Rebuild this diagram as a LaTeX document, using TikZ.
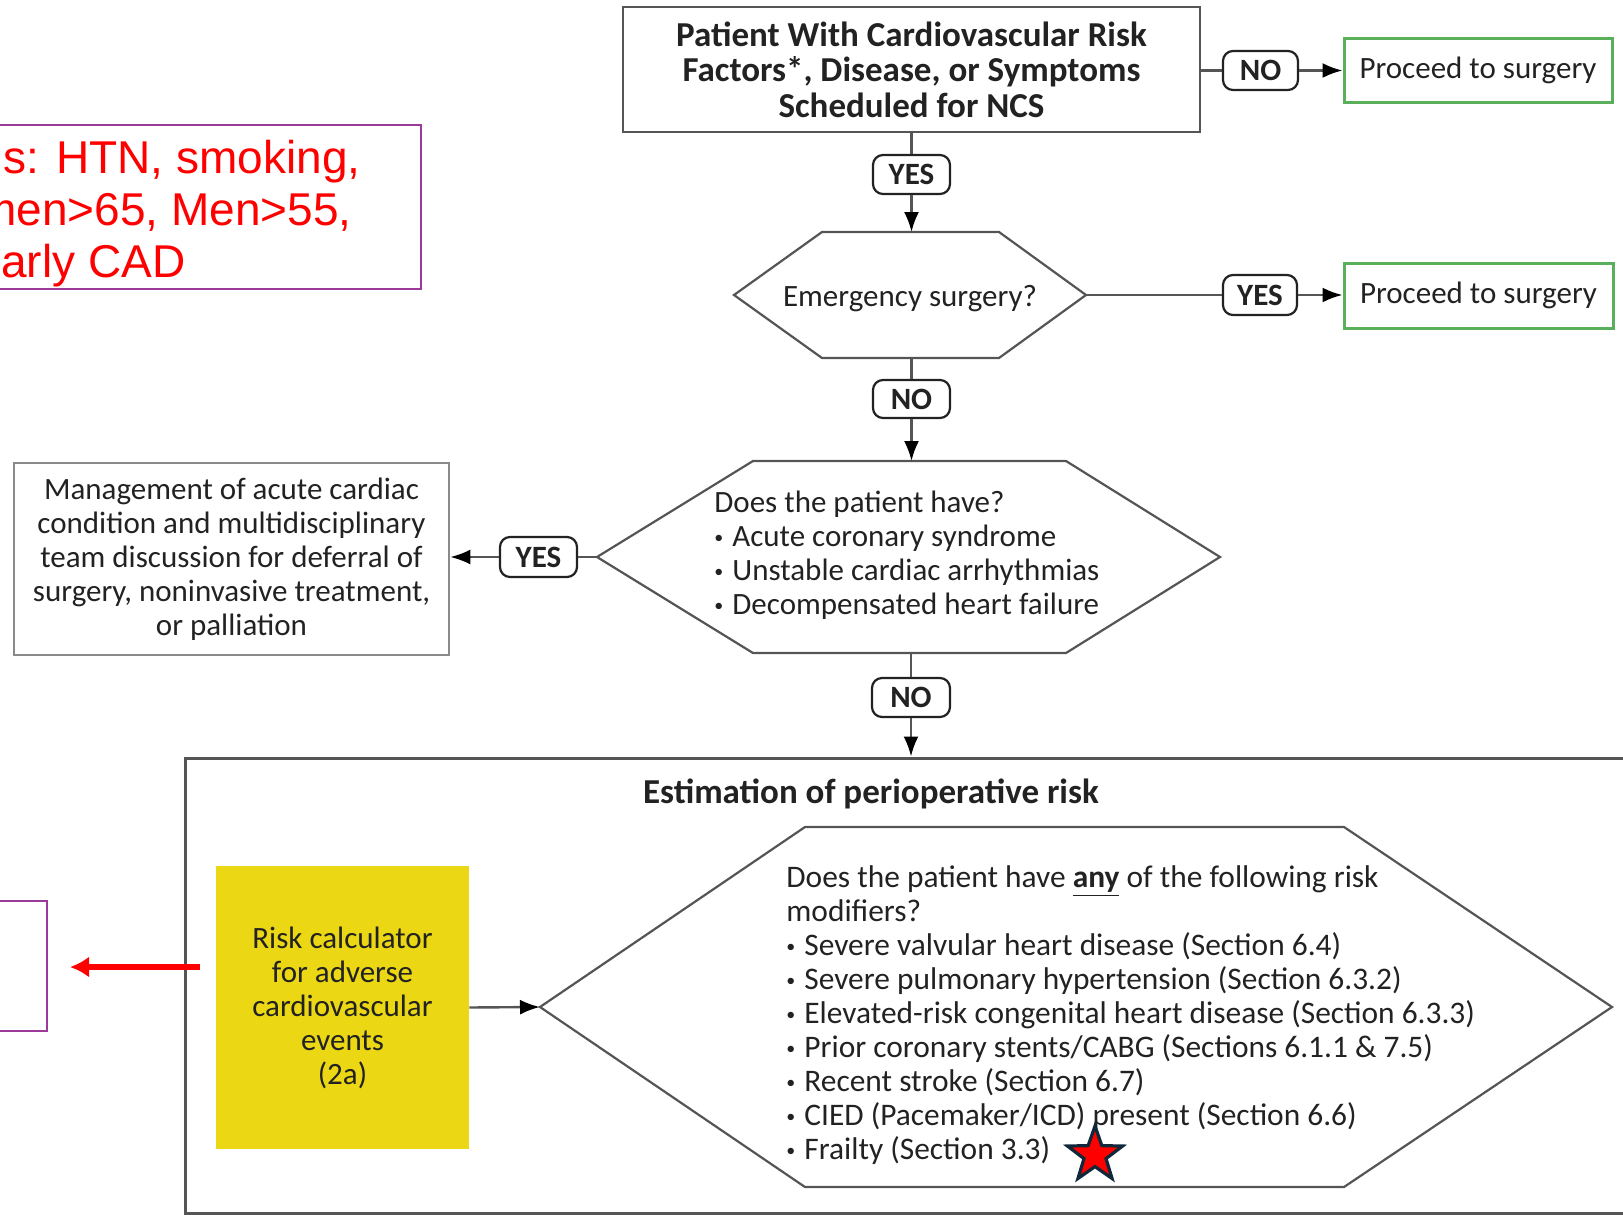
\documentclass[tikz,border=0pt]{standalone}
\usepackage{fontspec}
\setmainfont{Carlito}
\newfontfamily\arialfont{Liberation Sans}
\usetikzlibrary{arrows.meta,shapes.geometric}

\definecolor{txt}{HTML}{222222}
\definecolor{edge}{HTML}{555555}
\definecolor{lightedge}{HTML}{8A8A8A}
\definecolor{okgreen}{HTML}{5AAF5A}
\definecolor{calcyellow}{HTML}{EBD714}
\definecolor{notepurple}{HTML}{9B3A9B}
\definecolor{starnavy}{HTML}{10283A}

% small list bullet
\newcommand{\itemdot}{\makebox[9pt][l]{\raisebox{1.6pt}{\fontsize{9}{9}\selectfont •}}}

\begin{document}
\begin{tikzpicture}[x=0.5pt,y=-0.5pt,
  body/.style={text=txt, font=\fontsize{15.5}{17}\selectfont, inner sep=0pt, align=center},
  boldtitle/.style={text=txt, font=\bfseries\fontsize{17.5}{17.75}\selectfont, inner sep=0pt, align=center},
  mainbox/.style={body, draw=edge, line width=1.2pt},
  sidebox/.style={body, draw=lightedge, line width=1.3pt},
  gobox/.style={body, draw=okgreen, line width=1.5pt},
  answer/.style={draw=txt, line width=1.1pt, rounded corners=5pt, inner sep=0pt,
    text=txt, font=\bfseries\fontsize{15.5}{16}\selectfont},
  hexline/.style={draw=edge, line width=1.1pt, line join=miter},
  link/.style={draw=edge, line width=1.2pt},
  arr/.style={link, -{Latex[length=10pt,width=7.5pt,color=black]}},
  notebox/.style={draw=notepurple, line width=1pt, inner sep=0pt},
  notetext/.style={text=red, font=\arialfont\fontsize{23}{26}\selectfont, inner sep=0pt},
  redarr/.style={draw=red, line width=3pt, -{Latex[length=9.5pt,width=10.5pt]}},
]
\useasboundingbox (0,0) rectangle (1623,1215);
\clip (0,0) rectangle (1623,1215);

% ---------- top of the flow ----------
\node[mainbox, boldtitle, draw=edge, line width=1.2pt,
      minimum width=288.5pt, minimum height=62.5pt] (start) at (911.5,69.5)
  {Patient With Cardiovascular Risk\\Factors*, Disease, or Symptoms\\Scheduled for NCS};

\node[answer, minimum width=37.5pt, minimum height=19.5pt] (no1) at (1260.5,70.5) {NO};
\node[gobox, minimum width=134pt, minimum height=32pt] (go1) at (1478,70) {Proceed to surgery};
\node[answer, minimum width=38.5pt, minimum height=19.5pt] (yes1) at (911.5,174.5) {YES};

% ---------- emergency question ----------
\coordinate (h1w) at (734,295);
\coordinate (h1e) at (1086,295);
\coordinate (h1n) at (910,232);
\coordinate (h1s) at (910,358);
\draw[hexline] (h1w) -- (822,232) -- (999,232) -- (h1e) -- (999,358) -- (822,358) -- cycle;
\node[body] (h1t) at (910,299) {Emergency surgery?};

\node[answer, minimum width=37pt, minimum height=20pt] (yes2) at (1260,295) {YES};
\node[gobox, minimum width=134.5pt, minimum height=32.5pt] (go2) at (1478.5,295.5) {Proceed to surgery};
\node[answer, minimum width=38.5pt, minimum height=19pt] (no2) at (911.5,399) {NO};

% ---------- acute condition question ----------
\coordinate (h2w) at (597,557);
\coordinate (h2e) at (1220,557);
\coordinate (h2n) at (910,461);
\coordinate (h2s) at (910,653);
\draw[hexline] (h2w) -- (753,461) -- (1066,461) -- (h2e) -- (1066,653) -- (753,653) -- cycle;
\node[body, align=left, anchor=west] (h2t) at (714,555)
  {Does the patient have?\\
   \itemdot Acute coronary syndrome\\
   \itemdot Unstable cardiac arrhythmias\\
   \itemdot Decompensated heart failure};

\node[sidebox, minimum width=217.5pt, minimum height=96pt] (acute) at (231.5,559)
  {Management of acute cardiac\\condition and multidisciplinary\\team discussion for deferral of\\surgery, noninvasive treatment,\\or palliation};
\node[answer, minimum width=38.5pt, minimum height=20pt] (yes3) at (538.5,557) {YES};
\node[answer, minimum width=39pt, minimum height=19.5pt] (no3) at (911,697.5) {NO};

% ---------- perioperative risk estimation ----------
\node[draw=edge, line width=1.5pt, minimum width=732.5pt, minimum height=227.5pt, inner sep=0pt]
  (risk) at (917.5,985.5) {};
\node[boldtitle] (risktitle) at (871,794) {Estimation of perioperative risk};

\node[body, fill=calcyellow, minimum width=126.5pt, minimum height=141.5pt] (calc) at (342.5,1007.5)
  {Risk calculator\\for adverse\\cardiovascular\\events\\(2a)};

\coordinate (h3w) at (540,1007);
\draw[hexline] (h3w) -- (805,827) -- (1344,827) -- (1612,1007) -- (1344,1187) -- (805,1187) -- cycle;
\node[body, align=left, anchor=west, font=\fontsize{15.7}{17}\selectfont] (h3t) at (786,1015)
  {Does the patient have \textbf{\underline{any}} of the following risk\\
   modifiers?\\
   \itemdot Severe valvular heart disease (Section 6.4)\\
   \itemdot Severe pulmonary hypertension (Section 6.3.2)\\
   \itemdot Elevated-risk congenital heart disease (Section 6.3.3)\\
   \itemdot Prior coronary stents/CABG (Sections 6.1.1 \& 7.5)\\
   \itemdot Recent stroke (Section 6.7)\\
   \itemdot CIED (Pacemaker/ICD) present (Section 6.6)\\
   \itemdot Frailty (Section 3.3)};

\node[star, star points=5, star point ratio=2.5, minimum size=29pt, inner sep=0pt,
      fill=red, draw=starnavy, line width=1.6pt] (flag) at (1095,1155) {};

% ---------- annotations ----------
\node[notebox, minimum width=215.5pt, minimum height=82pt] (note1) at (205.5,207) {};
\node[notetext, anchor=base east] (note1a) at (361,173) {s: HTN, smoking,};
\node[notetext, anchor=base east] (note1b) at (352,225) {men>65, Men>55,};
\node[notetext, anchor=base west] (note1c) at (1,277) {arly CAD};

\node[notebox, minimum width=28.5pt, minimum height=65pt] (note2) at (18.5,966) {};
\coordinate (redtail) at (200,967);
\coordinate (redtip) at (70,967);
\draw[redarr] (redtail) -- (redtip);

% ---------- connectors ----------
\draw[link] (no1.west -| start.east) -- (no1.west);
\draw[arr] (no1.east) -- (go1.west |- no1.east);
\draw[link] (start.south -| yes1) -- (yes1.north);
\draw[arr] (yes1.south) -- (yes1 |- h1n);
\draw[link] (h1e) -- (yes2.west);
\draw[arr] (yes2.east) -- (go2.west |- yes2.east);
\draw[link] (h1s -| no2) -- (no2.north);
\draw[arr] (no2.south) -- (no2 |- h2n);
\draw[link] (h2w) -- (yes3.east);
\draw[arr] (yes3.west) -- (acute.east |- yes3.west);
\draw[link] (h2s -| no3) -- (no3.north);
\draw[arr] (no3.south) -- (no3 |- risk.north);
\draw[arr] (calc.east) -- (h3w);
\end{tikzpicture}
\end{document}
